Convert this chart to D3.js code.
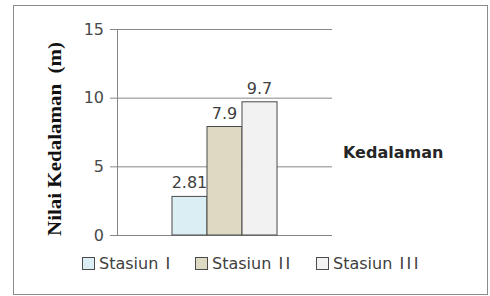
<!DOCTYPE html>
<html>
<head>
<meta charset="utf-8">
<script src="https://cdn.jsdelivr.net/npm/d3@7"></script>
<style>
  body { margin: 0; background: #fff; }
  svg { display: block; }
</style>
</head>
<body>
<div id="chart"></div>
<script>
// donnees du graphique
const categories = ["Stasiun I", "Stasiun II", "Stasiun III"];
const values = [2.81, 7.9, 9.7];
const yTicks = [0, 5, 10, 15];
const colors = ["#dbeef4", "#ddd9c3", "#f2f2f2"];
const seriesName = "Kedalaman";
const yTitle = "Nilai Kedalaman  (m)";

const W = 490, H = 296;
const margin = {top: 29, left: 117, right: 158, bottom: 61};
const width = W - margin.left - margin.right;
const height = H - margin.top - margin.bottom;

const svg = d3.select("#chart").append("svg")
  .attr("width", W)
  .attr("height", H);

// cadre exterieur
svg.append("rect")
  .attr("x", 13.5).attr("y", 5.5)
  .attr("width", 474).attr("height", 289)
  .attr("fill", "#fff")
  .attr("stroke", "#8c8c8c");

const g = svg.append("g")
  .attr("transform", "translate(" + margin.left + "," + margin.top + ")");

const x = d3.scaleBand()
  .domain(categories)
  .range([0, width])
  .paddingInner(0)
  .paddingOuter(1.57);

const y = d3.scaleLinear()
  .domain([0, 15])
  .range([height, 0]);

// grille + axe y
const axeY = d3.axisLeft(y)
  .tickValues(yTicks)
  .tickSize(-width)
  .tickPadding(13);

const gy = g.append("g").call(axeY);
gy.select(".domain").remove();
gy.selectAll(".tick line")
  .attr("x1", -7)
  .attr("stroke", "#868686");
gy.selectAll(".tick text")
  .attr("font-family", "DejaVu Sans, Verdana, sans-serif")
  .attr("font-size", 16)
  .attr("fill", "#4a4a4a");

g.append("line")
  .attr("x1", 0.5).attr("x2", 0.5)
  .attr("y1", 0).attr("y2", height)
  .attr("stroke", "#868686");

// barres
g.selectAll(".bar")
  .data(values)
  .enter().append("rect")
  .attr("class", "bar")
  .attr("x", (d, i) => x(categories[i]))
  .attr("y", d => y(d))
  .attr("width", x.bandwidth())
  .attr("height", d => height - y(d))
  .attr("fill", (d, i) => colors[i])
  .attr("stroke", "#4a4a4a")
  .attr("stroke-width", 1);

// etiquettes des valeurs
g.selectAll(".lbl")
  .data(values)
  .enter().append("text")
  .attr("class", "lbl")
  .attr("x", (d, i) => x(categories[i]) + x.bandwidth() / 2)
  .attr("y", d => y(d) - 8)
  .attr("text-anchor", "middle")
  .attr("font-family", "DejaVu Sans, Verdana, sans-serif")
  .attr("font-size", 16)
  .attr("fill", "#404040")
  .text(d => String(d));

// titre axe y
svg.append("text")
  .attr("transform", "translate(61," + (margin.top + height / 2 + 7) + ") rotate(-90)")
  .attr("text-anchor", "middle")
  .attr("font-family", "Liberation Serif, Times New Roman, serif")
  .attr("font-weight", "bold")
  .attr("font-size", 19)
  .attr("fill", "#111")
  .attr("textLength", 194)
  .attr("lengthAdjust", "spacingAndGlyphs")
  .style("white-space", "pre")
  .text(yTitle);

// nom de serie a droite
svg.append("text")
  .attr("x", 343)
  .attr("y", 158)
  .attr("font-family", "DejaVu Sans, Verdana, sans-serif")
  .attr("font-weight", "bold")
  .attr("font-size", 16)
  .attr("fill", "#262626")
  .text(seriesName);

// legende du bas
const legX = [82, 195, 316];
const leg = svg.selectAll(".leg")
  .data(categories)
  .enter().append("g")
  .attr("class", "leg")
  .attr("transform", (d, i) => "translate(" + legX[i] + ",257)");

leg.append("rect")
  .attr("x", 0.5).attr("y", 0.5)
  .attr("width", 12).attr("height", 12)
  .attr("fill", (d, i) => colors[i])
  .attr("stroke", "#4a4a4a");

const legTxt = leg.append("text")
  .attr("x", 17)
  .attr("y", 12)
  .attr("font-family", "DejaVu Sans, Verdana, sans-serif")
  .attr("font-size", 16)
  .attr("fill", "#404040")
  .style("white-space", "pre");
legTxt.append("tspan")
  .text(d => d.split(" ")[0] + " ");
legTxt.append("tspan")
  .attr("dx", 2)
  .attr("letter-spacing", 2.5)
  .text(d => d.split(" ")[1]);
</script>
</body>
</html>
